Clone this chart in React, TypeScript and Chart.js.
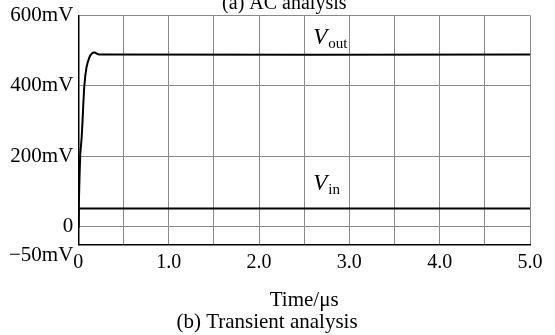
import React, { useEffect, useRef } from "react";
import { Chart, registerables } from "chart.js";

Chart.register(...registerables);

// Data (time in µs, voltage in mV)
const outTime = [0, 0.005, 0.02, 0.037, 0.05, 0.066, 0.09, 0.12, 0.15, 0.18, 0.22, 0.3, 5.0];
const outVolt = [0, 60, 200, 255, 320, 400, 452, 480, 492, 495, 490, 489, 489];
const inTime = [0, 0.003, 0.5, 5.0];
const inVolt = [0, 52, 52, 52];
const yTickValues = [-50, 0, 200, 400, 600];
const topTitle = "(a) AC analysis";
const bottomTitle = "(b) Transient analysis";
const xAxisTitle = "Time/\u03bcs";
const seriesLabels = [
  { main: "V", sub: "out", t: 2.6, v: 520 },
  { main: "V", sub: "in", t: 2.6, v: 106 },
];

const FONT = "'Liberation Serif', 'Times New Roman', serif";

const labelPlugin = {
  id: "seriesLabels",
  afterDatasetsDraw(chart: any) {
    const { ctx, scales, chartArea } = chart;
    ctx.save();
    ctx.fillStyle = "#000";
    ctx.textBaseline = "alphabetic";
    ctx.textAlign = "left";
    for (const l of seriesLabels) {
      const x = scales.x.getPixelForValue(l.t);
      const y = scales.y.getPixelForValue(l.v);
      ctx.font = `italic 23px ${FONT}`;
      ctx.fillText(l.main, x, y);
      const w = ctx.measureText(l.main).width;
      ctx.font = `15px ${FONT}`;
      ctx.fillText(l.sub, x + w + 1, y + 4);
    }
    // partially cropped caption of the upper panel
    ctx.font = `20px ${FONT}`;
    ctx.textAlign = "center";
    ctx.fillText(topTitle, scales.x.getPixelForValue(2.28), chartArea.top - 7);
    ctx.restore();
  },
};

export default function App() {
  const ref = useRef<HTMLCanvasElement>(null);
  useEffect(() => {
    document.body.style.margin = "0";
    const chart = new Chart(ref.current!, {
      type: "line",
      data: {
        datasets: [
          {
            label: "Vout",
            data: outTime.map((t, i) => ({ x: t, y: outVolt[i] })),
            borderColor: "#000",
            borderWidth: 2,
            pointRadius: 0,
            tension: 0.2,
          },
          {
            label: "Vin",
            data: inTime.map((t, i) => ({ x: t, y: inVolt[i] })),
            borderColor: "#000",
            borderWidth: 2,
            pointRadius: 0,
          },
        ],
      },
      options: {
        animation: false,
        responsive: true,
        maintainAspectRatio: false,
        layout: { padding: { left: 4, right: 25, top: 5, bottom: 0 } },
        plugins: {
          legend: { display: false },
          tooltip: { enabled: false },
          title: { display: false },
          subtitle: {
            display: true,
            text: bottomTitle,
            position: "bottom",
            color: "#000",
            font: { family: FONT, size: 21, weight: "normal", lineHeight: 1.0 },
            padding: { top: 0, bottom: 2.5 },
          },
        },
        scales: {
          x: {
            type: "linear",
            min: 0,
            max: 5,
            grid: { color: "#8a8a8a", lineWidth: 1, drawTicks: false },
            border: { color: "#000", width: 1.5 },
            ticks: {
              stepSize: 0.5,
              autoSkip: false,
              maxRotation: 0,
              padding: 6,
              color: "#000",
              font: { family: FONT, size: 20 },
              callback: (v: any) => {
                const n = Number(v);
                if (Math.abs(n - Math.round(n)) > 1e-6) return "";
                return n === 0 ? "0" : n.toFixed(1);
              },
            },
            title: {
              display: true,
              text: xAxisTitle,
              color: "#000",
              font: { family: FONT, size: 21, lineHeight: 1.0 },
              padding: { top: 9, bottom: 1 },
            },
          },
          y: {
            type: "linear",
            min: -50,
            max: 600,
            afterBuildTicks: (scale: any) => {
              scale.ticks = yTickValues.map((v) => ({ value: v }));
            },
            grid: { color: "#8a8a8a", lineWidth: 1, drawTicks: false },
            border: { color: "#000", width: 1.5 },
            ticks: {
              padding: 5,
              color: "#000",
              font: { family: FONT, size: 21, lineHeight: 1.0 },
              callback: (v: any) => {
                const n = Number(v);
                if (n === 0) return "0";
                if (n === -50) return ["", "\u221250mV"];
                return `${n}mV`;
              },
            },
          },
        },
      },
      plugins: [labelPlugin],
    } as any);
    return () => chart.destroy();
  }, []);
  return (
    <div style={{ position: "fixed", left: 0, top: 0, width: 555, height: 335, background: "#fff" }}>
      <canvas ref={ref} />
    </div>
  );
}
